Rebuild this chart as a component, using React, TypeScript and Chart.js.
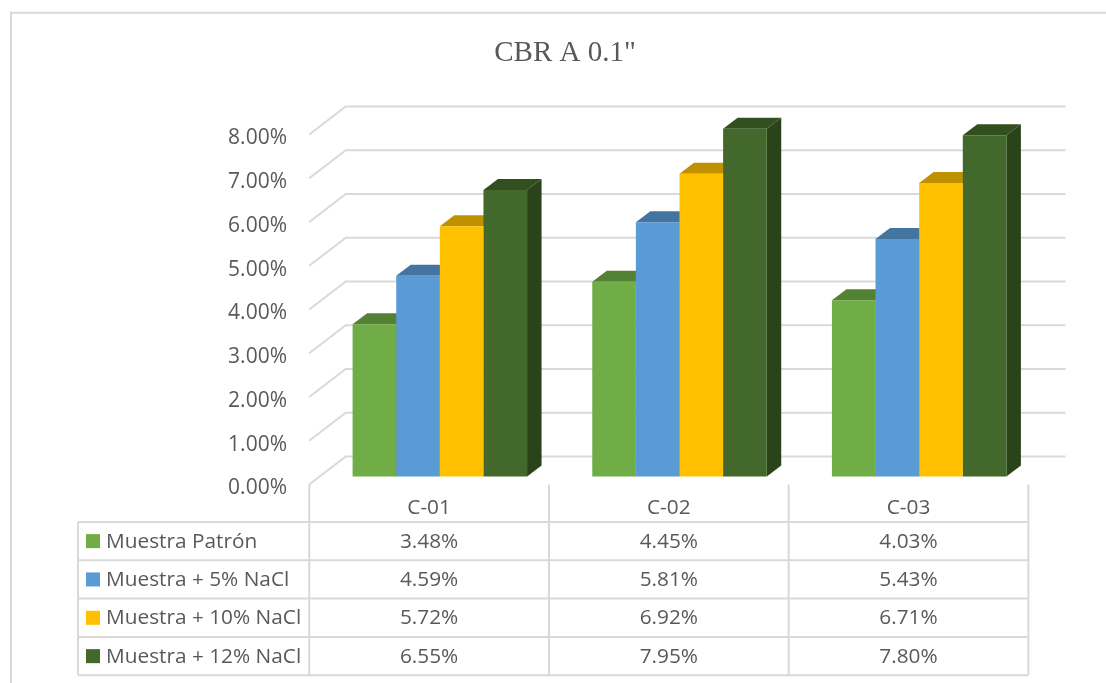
import React, { useEffect, useRef } from "react";
import { Chart, registerables } from "chart.js";

Chart.register(...registerables);

const title = 'CBR A 0.1"';
const categories = ["C-01", "C-02", "C-03"];
const patron = [3.48, 4.45, 4.03];
const nacl5 = [4.59, 5.81, 5.43];
const nacl10 = [5.72, 6.92, 6.71];
const nacl12 = [6.55, 7.95, 7.8];
const seriesNames = ["Muestra Patrón", "Muestra + 5% NaCl", "Muestra + 10% NaCl", "Muestra + 12% NaCl"];
const frontColors = ["#70ad47", "#5b9bd5", "#ffc000", "#43682b"];
const topColors = ["#548235", "#4474a0", "#bf9000", "#324f20"];
const sideColors = ["#40662a", "#3a6a94", "#a67d00", "#2a431a"];

const TEXT = "#595959";
const LINE = "#d9d9d9";
const FONT = '"Open Sans", sans-serif';
const K = 43.75;
const LABEL_SHIFT = 4;
const FRONT_SHIFT = 12;
const TOP_VALUE = 8.6;

const titleCenterPlugin = {
  id: "titleCenter",
  afterLayout(chart: any) {
    if (chart.titleBlock) {
      chart.titleBlock.left = 24;
      chart.titleBlock.right = 1106;
    }
  },
};

const depthPlugin = {
  id: "depth3d",
  beforeDatasetsDraw(chart: any) {
    const { ctx } = chart;
    const dx = 14.5;
    const dy = 11;
    chart.data.datasets.forEach((_: any, i: number) => {
      chart.getDatasetMeta(i).data.forEach((bar: any) => {
        const w = bar.width;
        const l = bar.x - w / 2;
        const r = bar.x + w / 2;
        const t = bar.y;
        const b = bar.base;
        ctx.fillStyle = sideColors[i];
        ctx.beginPath();
        ctx.moveTo(r, t);
        ctx.lineTo(r + dx, t - dy);
        ctx.lineTo(r + dx, b - dy);
        ctx.lineTo(r, b);
        ctx.closePath();
        ctx.fill();
        ctx.fillStyle = topColors[i];
        ctx.beginPath();
        ctx.moveTo(l, t);
        ctx.lineTo(l + dx, t - dy);
        ctx.lineTo(r + dx, t - dy);
        ctx.lineTo(r, t);
        ctx.closePath();
        ctx.fill();
      });
    });
  },
};

const wallPlugin = {
  id: "wall",
  beforeDraw(chart: any) {
    const { ctx, chartArea } = chart;
    const scale = chart.scales.y;
    const wallX = chartArea.left - 10.75;
    const backX = wallX + 36.5;
    const backRight = 1065.5;
    ctx.save();
    ctx.fillStyle = "#ffffff";
    ctx.fillRect(0, 0, chart.width, chart.height);
    ctx.strokeStyle = LINE;
    ctx.lineWidth = 2;
    // page frame
    ctx.beginPath();
    ctx.moveTo(11, 683);
    ctx.lineTo(11, 12.8);
    ctx.lineTo(1106, 12.8);
    ctx.stroke();
    // back wall and side wall gridlines
    scale.ticks.forEach((tick: any) => {
      const y = scale.getPixelForValue(tick.value) - LABEL_SHIFT;
      ctx.beginPath();
      ctx.moveTo(wallX, y);
      ctx.lineTo(backX, y - 28);
      ctx.lineTo(backRight, y - 28);
      ctx.stroke();
    });
    ctx.restore();
  },
};

const tablePlugin = {
  id: "dataTable",
  afterDraw(chart: any) {
    const { ctx, chartArea } = chart;
    const colW = 239.7;
    const x0 = chartArea.left - 10.75;
    const tableLeft = 78;
    const rowY = [522, 560.3, 598.6, 637, 675.3];
    const headTop = chart.scales.y.getPixelForValue(0) - LABEL_SHIFT;
    const xEnd = x0 + colW * categories.length;
    ctx.save();
    ctx.strokeStyle = LINE;
    ctx.lineWidth = 2;
    ctx.beginPath();
    rowY.forEach((y) => {
      ctx.moveTo(tableLeft, y);
      ctx.lineTo(xEnd, y);
    });
    ctx.moveTo(tableLeft, rowY[0]);
    ctx.lineTo(tableLeft, rowY[4]);
    for (let c = 0; c <= categories.length; c++) {
      const x = x0 + c * colW;
      ctx.moveTo(x, headTop);
      ctx.lineTo(x, rowY[4]);
    }
    ctx.stroke();

    ctx.fillStyle = TEXT;
    ctx.font = `20.8px ${FONT}`;
    ctx.textBaseline = "middle";
    ctx.textAlign = "center";
    categories.forEach((name, c) => {
      ctx.fillText(name, x0 + (c + 0.5) * colW, 508);
    });
    chart.data.datasets.forEach((ds: any, s: number) => {
      const y = (rowY[s] + rowY[s + 1]) / 2;
      ctx.fillStyle = frontColors[s];
      ctx.fillRect(86, y - 7, 14, 14);
      ctx.fillStyle = TEXT;
      ctx.textAlign = "left";
      ctx.fillText(ds.label, 106, y + 0.5);
      ctx.textAlign = "center";
      ds.data.forEach((v: number, c: number) => {
        ctx.fillText(`${v.toFixed(2)}%`, x0 + (c + 0.5) * colW, y + 0.5);
      });
    });
    ctx.restore();
  },
};

export default function App() {
  const ref = useRef<HTMLCanvasElement>(null);
  useEffect(() => {
    document.body.style.margin = "0";
    const series = [patron, nacl5, nacl10, nacl12];
    const chart = new Chart(ref.current!, {
      type: "bar",
      data: {
        labels: categories,
        datasets: series.map((data, i) => ({
          label: seriesNames[i],
          data,
          yAxisID: "bars",
          backgroundColor: frontColors[i],
          borderWidth: 0,
          categoryPercentage: 0.728,
          barPercentage: 1,
        })),
      },
      options: {
        responsive: false,
        animation: false,
        events: [],
        layout: { padding: { top: 36.1, left: 0, right: 67, bottom: 194.5 } },
        plugins: {
          legend: { display: false },
          tooltip: { enabled: false },
          title: {
            display: true,
            text: title,
            color: TEXT,
            font: { family: '"Liberation Serif", serif', size: 29, weight: "normal" },
            padding: { top: 0, bottom: 41.35 },
          },
        },
        scales: {
          x: { display: false, offset: true },
          y: {
            position: "left",
            min: 0,
            max: TOP_VALUE,
            grid: { display: false, drawTicks: false },
            border: { display: false },
            afterBuildTicks: (s: any) => {
              s.ticks = s.ticks.filter((t: any) => t.value <= 8);
            },
            afterFit: (s: any) => {
              s.width = 320;
            },
            ticks: {
              stepSize: 1,
              padding: 33,
              color: TEXT,
              font: { family: FONT, size: 21 },
              callback: (v: any) => `${Number(v).toFixed(2)}%`,
            },
          },
          bars: {
            display: false,
            min: -FRONT_SHIFT / K,
            max: TOP_VALUE - FRONT_SHIFT / K,
          },
        },
      } as any,
      plugins: [titleCenterPlugin, wallPlugin, depthPlugin, tablePlugin],
    });
    return () => chart.destroy();
  }, []);
  return (
    <div style={{ position: "absolute", left: 0, top: 0 }}>
      <canvas ref={ref} width={1106} height={683} style={{ display: "block" }} />
    </div>
  );
}
